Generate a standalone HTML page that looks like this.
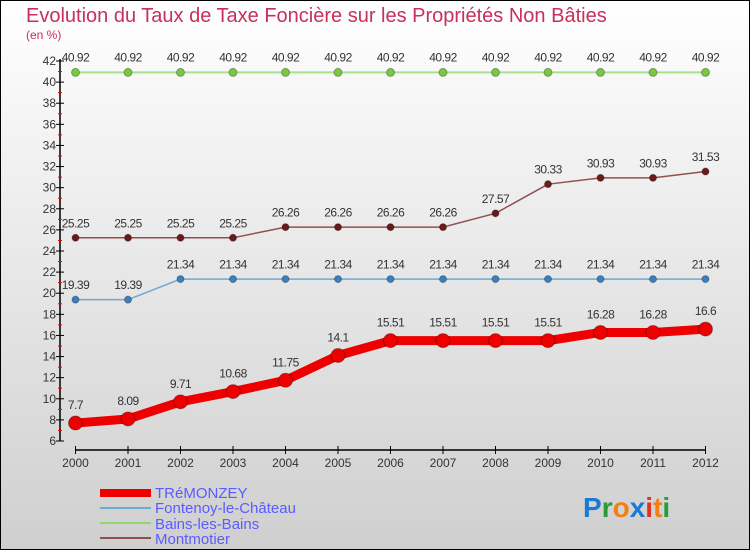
<!DOCTYPE html>
<html><head><meta charset="utf-8"><style>
body{margin:0}
#c{width:750px;height:550px;position:relative;font-family:"Liberation Sans",sans-serif;}
</style></head><body>
<div id="c">
<svg id="s" width="750" height="550" xmlns="http://www.w3.org/2000/svg">
<defs><linearGradient id="bg" x1="0" y1="0" x2="0" y2="1"><stop offset="0" stop-color="#ffffff"/><stop offset="1" stop-color="#cfcfcf"/></linearGradient></defs>
<rect x="0.5" y="0.5" width="749" height="549" fill="url(#bg)" stroke="#000"/>
<text x="26" y="22" font-size="20" fill="#c8305a">Evolution du Taux de Taxe Foncière sur les Propriétés Non Bâties</text>
<text x="26" y="39" font-size="12" fill="#c8305a">(en %)</text>
<g id="g"></g>
<g>
<rect x="100" y="489" width="51" height="8" fill="#ee0000"/>
<text x="155" y="498" font-size="15" fill="#5b5bff">TRéMONZEY</text>
<line x1="100" y1="508" x2="151" y2="508" stroke="#6fa8d0" stroke-width="2"/>
<text x="155" y="513" font-size="15" fill="#5b5bff">Fontenoy-le-Château</text>
<line x1="100" y1="523" x2="151" y2="523" stroke="#8fd870" stroke-width="2"/>
<text x="155" y="529" font-size="15" fill="#5b5bff">Bains-les-Bains</text>
<line x1="100" y1="538" x2="151" y2="538" stroke="#905050" stroke-width="2"/>
<text x="155" y="544" font-size="15" fill="#5b5bff">Montmotier</text>
</g>
<text x="583" y="517" font-size="28" font-weight="bold"><tspan fill="#1a7ad6">P</tspan><tspan fill="#2a9a3a">r</tspan><tspan fill="#f08010">o</tspan><tspan fill="#1a7ad6">x</tspan><tspan fill="#e03020">i</tspan><tspan fill="#f08010">t</tspan><tspan fill="#2a9a3a">i</tspan></text>
</svg>
</div>
<script>
const years=[2000,2001,2002,2003,2004,2005,2006,2007,2008,2009,2010,2011,2012];
const tremonzey=[7.7,8.09,9.71,10.68,11.75,14.1,15.51,15.51,15.51,15.51,16.28,16.28,16.6];
const fontenoy=[19.39,19.39,21.34,21.34,21.34,21.34,21.34,21.34,21.34,21.34,21.34,21.34,21.34];
const bains=[40.92,40.92,40.92,40.92,40.92,40.92,40.92,40.92,40.92,40.92,40.92,40.92,40.92];
const montmotier=[25.25,25.25,25.25,25.25,26.26,26.26,26.26,26.26,27.57,30.33,30.93,30.93,31.53];
const yTicks=[6,8,10,12,14,16,18,20,22,24,26,28,30,32,34,36,38,40,42];
const NS="http://www.w3.org/2000/svg";
const g=document.getElementById('g');
const X=i=>75.5+i*52.5;
const Y=v=>441-(v-6)*(380/36);
function mk(t,a){const e=document.createElementNS(NS,t);for(const k in a)e.setAttribute(k,a[k]);g.appendChild(e);return e;}
let e=mk('line',{x1:60,y1:Y(42)-2,x2:60,y2:Y(6),stroke:'#000','stroke-width':1.5});


e=mk('line',{x1:75,y1:450,x2:706,y2:450,stroke:'#000','stroke-width':1.5});


yTicks.forEach((v,k)=>{
 mk('line',{x1:56,y1:Y(v),x2:64,y2:Y(v),stroke:'#000'});
 if(k<yTicks.length-1) mk('line',{x1:58,y1:Y(v+1),x2:62,y2:Y(v+1),stroke:'#e00'});
 const t=mk('text',{x:56,y:Y(v)+4,'font-size':12,'text-anchor':'end',fill:'#333'});t.textContent=v;
 
 
});
years.forEach((y,i)=>{
 mk('line',{x1:X(i),y1:446,x2:X(i),y2:454,stroke:'#000'});
 const t=mk('text',{x:X(i),y:467,'font-size':12,'text-anchor':'middle',fill:'#333'});t.textContent=y;
 
 
});
function series(arr,col,dot,w,r,name){
 const p=mk('polyline',{points:arr.map((v,i)=>X(i)+','+Y(v)).join(' '),fill:'none',stroke:col,'stroke-width':w,'stroke-linejoin':'round'});
 
 
 arr.forEach((v,i)=>{
  const c=mk('circle',{cx:X(i),cy:Y(v),r:r,fill:dot,stroke:'rgba(0,0,0,0.3)'});
  
  
  const t=mk('text',{x:X(i),y:Y(v)-(r+7),'font-size':12,'text-anchor':'middle',fill:'#333','letter-spacing':'-0.5'});t.textContent=v;
  
  
 });
}
series(bains,'#a8e090','#78c840',2,4,'bains');
series(montmotier,'#905050','#6a1a1a',1.5,3.5,'montmotier');
series(fontenoy,'#6fa8d0','#3a80c0',1.5,3.5,'fontenoy');
series(tremonzey,'#ee0000','#ee0000',9,7,'tremonzey');
</script>
</body></html>
